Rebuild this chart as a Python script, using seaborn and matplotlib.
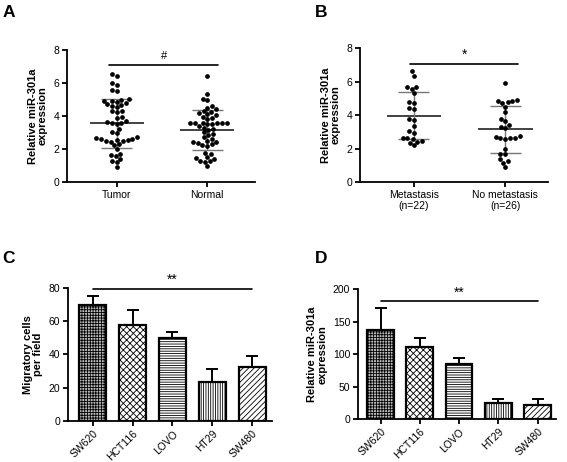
import numpy as np
import pandas as pd
import matplotlib
matplotlib.use("Agg")
import matplotlib.pyplot as plt
import seaborn as sns

# panel A: relative miR-301a, tumor vs normal (48 pairs)
TUMOR = [6.55, 6.4, 6.0, 5.9, 5.6, 5.5, 5.0, 4.95, 4.9, 4.9, 4.85, 4.8,
         4.7, 4.65, 4.6, 4.55, 4.3, 4.3, 4.25, 3.95, 3.9, 3.7, 3.65, 3.6,
         3.55, 3.5, 3.2, 3.0, 2.95, 2.7, 2.65, 2.6, 2.6, 2.55, 2.55, 2.5,
         2.5, 2.45, 2.3, 2.25, 2.0, 1.7, 1.65, 1.55, 1.4, 1.3, 1.2, 0.9]
NORMAL = [6.4, 5.35, 5.05, 4.95, 4.6, 4.5, 4.4, 4.3, 4.25, 4.15, 4.1, 4.05,
          3.95, 3.85, 3.8, 3.6, 3.6, 3.55, 3.55, 3.5, 3.5, 3.55, 3.6, 3.4,
          3.3, 3.2, 3.15, 3.0, 2.9, 2.85, 2.7, 2.6, 2.5, 2.45, 2.4, 2.35,
          2.3, 2.25, 2.2, 1.75, 1.7, 1.5, 1.45, 1.4, 1.3, 1.25, 1.2, 0.95]
TUMOR_LABELS = ["Tumor", "Normal"]

# panel B: metastasis vs no metastasis
METASTASIS = [6.6, 6.35, 5.7, 5.65, 5.55, 5.3, 4.75, 4.7, 4.4, 4.35, 3.75,
              3.7, 3.35, 3.05, 2.95, 2.65, 2.6, 2.55, 2.45, 2.4, 2.35, 2.2]
NO_METASTASIS = [5.9, 4.9, 4.85, 4.85, 4.75, 4.7, 4.5, 4.2, 3.75, 3.65, 3.4,
                 3.3, 3.2, 2.75, 2.7, 2.65, 2.65, 2.6, 2.55, 2.0, 1.7, 1.65,
                 1.35, 1.25, 1.15, 0.9]
MET_LABELS = ["Metastasis\n(n=22)", "No metastasis\n(n=26)"]

# panels C and D: cell lines
CELL_LINES = ["SW620", "HCT116", "LOVO", "HT29", "SW480"]
MIGRATION_MEAN = [69.8, 57.5, 49.8, 23.4, 32.5]
MIGRATION_SD = [5.4, 9.0, 3.6, 7.6, 6.6]
MIR_MEAN = [137.5, 110.5, 84.5, 24.0, 22.0]
MIR_SD = [34.0, 14.5, 10.0, 7.5, 8.5]
HATCHES = ["++++++", "xxxxx", "-------", "|||||||", "//////"]
BAR_FILLS = ["#bdbdbd", "white", "white", "white", "white"]

sns.set_style("ticks")
plt.rcParams["font.family"] = ["Liberation Sans", "DejaVu Sans"]
plt.rcParams["hatch.linewidth"] = 0.6
for key in ["text.color", "axes.labelcolor", "xtick.color", "ytick.color",
            "axes.edgecolor"]:
    plt.rcParams[key] = "black"

YLABEL_MIR = "Relative miR-301a\nexpression"


def style_axis(ax):
    sns.despine(ax=ax)
    for side in ["left", "bottom"]:
        ax.spines[side].set_linewidth(1.3)
    ax.tick_params(width=1.3, length=3.5, labelsize=7.5, pad=2)


def sig_line(ax, x0, x1, y, text, text_y, size=10):
    ax.plot([x0, x1], [y, y], color="black", lw=1.2, clip_on=False)
    ax.text((x0 + x1) / 2, text_y, text, ha="center", va="center",
            fontsize=size, clip_on=False)


def plot_scatter(ax, a, b, labels, xlim):
    df = pd.DataFrame({
        "group": [labels[0]] * len(a) + [labels[1]] * len(b),
        "value": a + b,
    })
    sns.swarmplot(data=df, x="group", y="value", color="black", size=3.4,
                  ax=ax, zorder=3)
    for i, vals in enumerate([a, b]):
        m = np.mean(vals)
        s = np.std(vals, ddof=1)
        ax.hlines(m, i - 0.3, i + 0.3, color="#333333", lw=1.3, zorder=2)
        ax.hlines([m - s, m + s], i - 0.17, i + 0.17, color="#777777",
                  lw=1.0, zorder=2)
        ax.vlines(i, m - s, m + s, color="#777777", lw=1.0, zorder=2)
    ax.set_xlim(*xlim)
    ax.set_ylim(0, 8)
    ax.set_yticks([0, 2, 4, 6, 8])
    ax.set_xlabel("")
    ax.set_ylabel(YLABEL_MIR, fontsize=8, fontweight="bold", linespacing=1.0)
    style_axis(ax)


def plot_bars(ax, means, sds, ylabel, ylim, yticks, xlim):
    df = pd.DataFrame({"cell": CELL_LINES, "value": means})
    sns.barplot(data=df, x="cell", y="value", color="white", saturation=1,
                edgecolor="black", linewidth=1.6, width=0.68, errorbar=None,
                ax=ax, zorder=2)
    for patch, h, fc in zip(ax.patches, HATCHES, BAR_FILLS):
        patch.set_hatch(h)
        patch.set_facecolor(fc)
    ax.errorbar(np.arange(len(means)), means,
                yerr=[np.zeros(len(means)), sds], fmt="none", ecolor="black",
                elinewidth=1.4, capsize=4.5, capthick=1.4, zorder=1)
    ax.set_xlim(*xlim)
    ax.set_ylim(*ylim)
    ax.set_yticks(yticks)
    ax.set_xticks(range(len(CELL_LINES)))
    ax.set_xticklabels(CELL_LINES, rotation=45, ha="right",
                       rotation_mode="anchor")
    ax.set_xlabel("")
    ax.set_ylabel(ylabel, fontsize=8, fontweight="bold", linespacing=1.0)
    style_axis(ax)


fig = plt.figure(figsize=(5.67, 4.62), dpi=100)
ax_a = fig.add_axes([0.118, 0.606, 0.332, 0.286])
ax_b = fig.add_axes([0.635, 0.606, 0.332, 0.290])
ax_c = fig.add_axes([0.120, 0.089, 0.360, 0.288])
ax_d = fig.add_axes([0.631, 0.093, 0.349, 0.281])

plot_scatter(ax_a, TUMOR, NORMAL, TUMOR_LABELS, (-0.55, 1.53))
sig_line(ax_a, -0.08, 1.12, 7.1, "#", 7.65, size=8)

plot_scatter(ax_b, METASTASIS, NO_METASTASIS, MET_LABELS, (-0.59, 1.47))
sig_line(ax_b, -0.04, 1.14, 7.05, "*", 7.6)

plot_bars(ax_c, MIGRATION_MEAN, MIGRATION_SD, "Migratory cells\nper field",
          (0, 80), [0, 20, 40, 60, 80], (-0.62, 4.5))
sig_line(ax_c, 0.0, 4.0, 79, "**", 85)

plot_bars(ax_d, MIR_MEAN, MIR_SD, YLABEL_MIR,
          (0, 200), [0, 50, 100, 150, 200], (-0.58, 4.46))
sig_line(ax_d, 0.0, 4.0, 182, "**", 194)

for x, y, letter in [(0.004, 0.99, "A"), (0.556, 0.99, "B"),
                     (0.004, 0.457, "C"), (0.556, 0.457, "D")]:
    fig.text(x, y, letter, fontsize=12.5, fontweight="bold", va="top")

fig.savefig("out.png", dpi=100)
